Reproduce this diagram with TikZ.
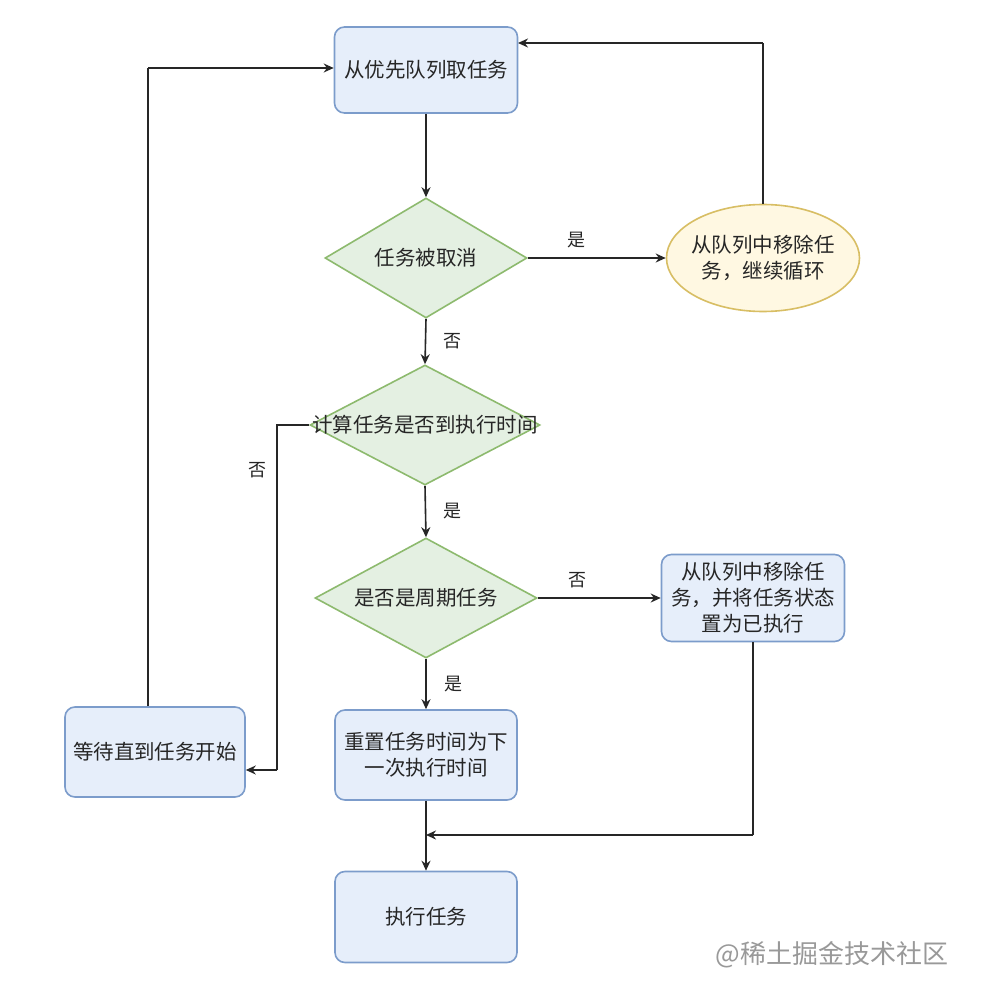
\documentclass[tikz,border=0pt]{standalone}
\usepackage{fontspec}
\setmainfont{Noto Sans CJK SC}
\usetikzlibrary{shapes.geometric,arrows.meta}
\definecolor{bfill}{HTML}{E6EEFA}
\definecolor{bdraw}{HTML}{7C9CCB}
\definecolor{gfill}{HTML}{E4F0E2}
\definecolor{gdraw}{HTML}{8DBA6E}
\definecolor{yfill}{HTML}{FFF8E2}
\definecolor{ydraw}{HTML}{D8BE64}
\tikzset{
  box/.style={draw=bdraw, fill=bfill, line width=1.6pt, rounded corners=10pt, minimum width=183pt, minimum height=86pt, align=center, inner sep=2pt},
  dia/.style={draw=gdraw, fill=gfill, line width=1.6pt, shape=diamond, minimum width=#1, minimum height=120pt, inner sep=0pt},
  ell/.style={draw=ydraw, fill=yfill, line width=1.6pt, shape=ellipse, minimum width=193pt, minimum height=107pt, inner sep=-12pt, align=center},
  txt/.style={font=\fontsize{20.5}{26}\selectfont, align=center, text=black!85},
  lbl/.style={font=\fontsize{18}{22}\selectfont, text=black!85},
  conn/.style={draw=black!85, line width=1.6pt, -{Stealth[length=10pt,width=9pt]}},
  plain/.style={draw=black!85, line width=1.6pt}
}
\begin{document}
\begin{tikzpicture}[x=1pt, y=-1pt]
\useasboundingbox (0,0) rectangle (1005,990);
\fill[white] (0,0) rectangle (1005,990);
% nodes
\node[box, txt] (A) at (426,70) {从优先队列取任务};
\node[dia=202pt] (D1) at (426,258) {};
\node[txt] (D1t) at (426,258) {任务被取消};
\node[ell, txt] (E1) at (763,258) {从队列中移除任\\务，继续循环};
\node[dia=230pt] (D2) at (425,425) {};
\node[txt] (D2t) at (425,425) {计算任务是否到执行时间};
\node[dia=222pt] (D3) at (426,598) {};
\node[txt] (D3t) at (426,598) {是否是周期任务};
\node[box, txt, minimum width=183pt, minimum height=87pt] (R1) at (753,598) {从队列中移除任\\务，并将任务状态\\置为已执行};
\node[box, txt, minimum width=182pt, minimum height=90pt] (R2) at (426,755) {重置任务时间为下\\一次执行时间};
\node[box, txt, minimum width=180pt, minimum height=90pt] (W) at (155,752) {等待直到任务开始};
\node[box, txt, minimum width=182pt, minimum height=91pt] (X) at (426,917) {执行任务};
\node[font=\fontsize{26}{28}\selectfont, text=black!40] (wm) at (832,955) {@稀土掘金技术社区};
% coordinates for bends
\coordinate (c1) at (763,43);
\coordinate (c2) at (518,43);
\coordinate (c3) at (277,425);
\coordinate (c4) at (277,770);
\coordinate (c5) at (148,68);
\coordinate (c6) at (753,835);
\coordinate (c7) at (426,835);
% connectors
\draw[conn] (A.south) -- (D1.north);
\draw[conn] (D1.east) -- node[lbl, pos=0.35, above=6pt] (l1) {是} (E1.west);
\draw[plain] (E1.north) -- (c1);
\draw[conn] (c1) -- (c2);
\draw[conn] (D1.south) -- node[lbl, right=14pt] (l2) {否} (D2.north);
\draw[plain] (D2.west) -- (c3) -- (c4);
\draw[conn] (c4) -- (W.east |- c4);
\node[lbl] (l3) at (257,470) {否};
\draw[conn] (D2.south) -- node[lbl, right=14pt] (l4) {是} (D3.north);
\draw[conn] (D3.east) -- node[lbl, pos=0.32, above=6pt] (l5) {否} (R1.west);
\draw[conn] (D3.south) -- node[lbl, right=14pt] (l6) {是} (R2.north);
\draw[plain] (R2.south) -- (c7);
\draw[conn] (c7) -- (X.north);
\draw[plain] (R1.south) -- (c6);
\draw[conn] (c6) -- (c7);
\draw[plain] (c5 |- W.north) -- (c5);
\draw[conn] (c5) -- (A.west |- c5);
\end{tikzpicture}
\end{document}
